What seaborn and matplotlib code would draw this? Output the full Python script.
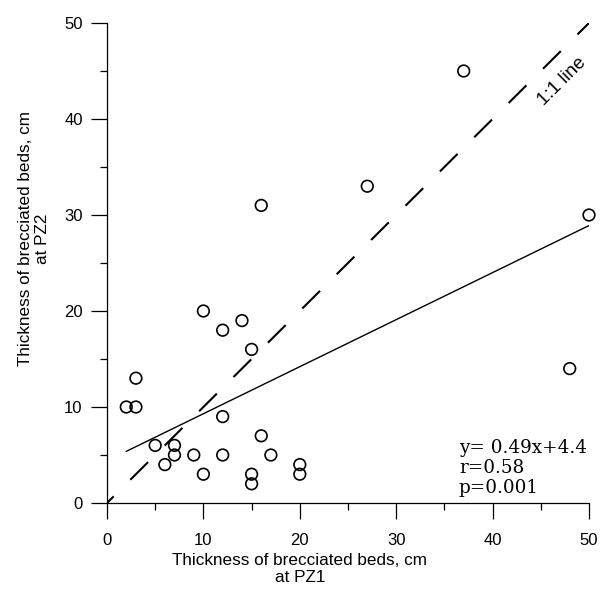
import numpy as np
import pandas as pd
import matplotlib
matplotlib.use("Agg")
import matplotlib.pyplot as plt
import seaborn as sns
from matplotlib.ticker import MultipleLocator

# ---- data ----
pz1 = [10, 14, 12, 15, 3, 2, 3, 12, 16, 5, 7, 7, 9, 12, 17, 6, 10, 15, 15, 20, 20, 16, 27, 37, 50, 48]
pz2 = [20, 19, 18, 16, 13, 10, 10, 9, 7, 6, 6, 5, 5, 5, 5, 4, 3, 3, 2, 4, 3, 31, 33, 45, 30, 14]
fit_slope = 0.49
fit_intercept = 4.4
stats_lines = ["y= 0.49x+4.4", "r=0.58", "p=0.001"]
one_to_one = [0, 50]
x_label = "Thickness of brecciated beds, cm\nat PZ1"
y_label = "Thickness of brecciated beds, cm\nat PZ2"

df = pd.DataFrame({"PZ1": pz1, "PZ2": pz2})

sns.set_theme(style="ticks")
plt.rcParams["font.family"] = ["Liberation Sans", "DejaVu Sans"]

fig = plt.figure(figsize=(6.01, 6.01), dpi=100)
ax = fig.add_axes([107 / 601, 98 / 601, 482 / 601, 480 / 601])

# 1:1 line
sns.lineplot(x=one_to_one, y=one_to_one, ax=ax, color="black", lw=1.5,
             linestyle=(7.5, (12, 11.3)))

# regression line from stated coefficients over data range
xr = np.array([min(pz1), max(pz1)], dtype=float)
sns.lineplot(x=xr, y=fit_slope * xr + fit_intercept, ax=ax, color="black", lw=1.0)

# points
sns.scatterplot(data=df, x="PZ1", y="PZ2", ax=ax, s=70, facecolor="none",
                edgecolor="black", linewidth=1.2, clip_on=False, zorder=5)

ax.set_xlim(0, 50)
ax.set_ylim(0, 50)
ax.xaxis.set_major_locator(MultipleLocator(10))
ax.xaxis.set_minor_locator(MultipleLocator(5))
ax.yaxis.set_major_locator(MultipleLocator(10))
ax.yaxis.set_minor_locator(MultipleLocator(5))
ax.tick_params(which="major", direction="out", length=11.5, width=0.9,
               color="black", labelsize=12, labelcolor="black")
ax.tick_params(axis="x", which="major", pad=10)
ax.tick_params(axis="y", which="major", pad=6)
ax.tick_params(which="minor", direction="out", length=5, width=0.9, color="black")

for side in ["top", "right"]:
    ax.spines[side].set_visible(False)
for side in ["left", "bottom"]:
    ax.spines[side].set_color("black")
    ax.spines[side].set_linewidth(0.9)

ax.set_xlabel(x_label, fontsize=12.3, color="black", linespacing=1.15)
ax.set_ylabel(y_label, fontsize=12.3, color="black", linespacing=1.15)
ax.xaxis.set_label_coords(0.40, -0.104, transform=ax.transAxes)
ax.yaxis.set_label_coords(-0.118, 0.55, transform=ax.transAxes)
ax.xaxis.label.set_va("top")
ax.yaxis.label.set_va("bottom")

ax.text(36.5, 3.65, "\n".join(stats_lines), family="DejaVu Serif", fontsize=13.2,
        va="center", ha="left", linespacing=1.15, color="black")
ax.text(47.2, 43.9, "1:1 line", rotation=45, rotation_mode="anchor",
        ha="center", va="center", fontsize=13.5, color="black")

fig.savefig("out.png", dpi=100)
